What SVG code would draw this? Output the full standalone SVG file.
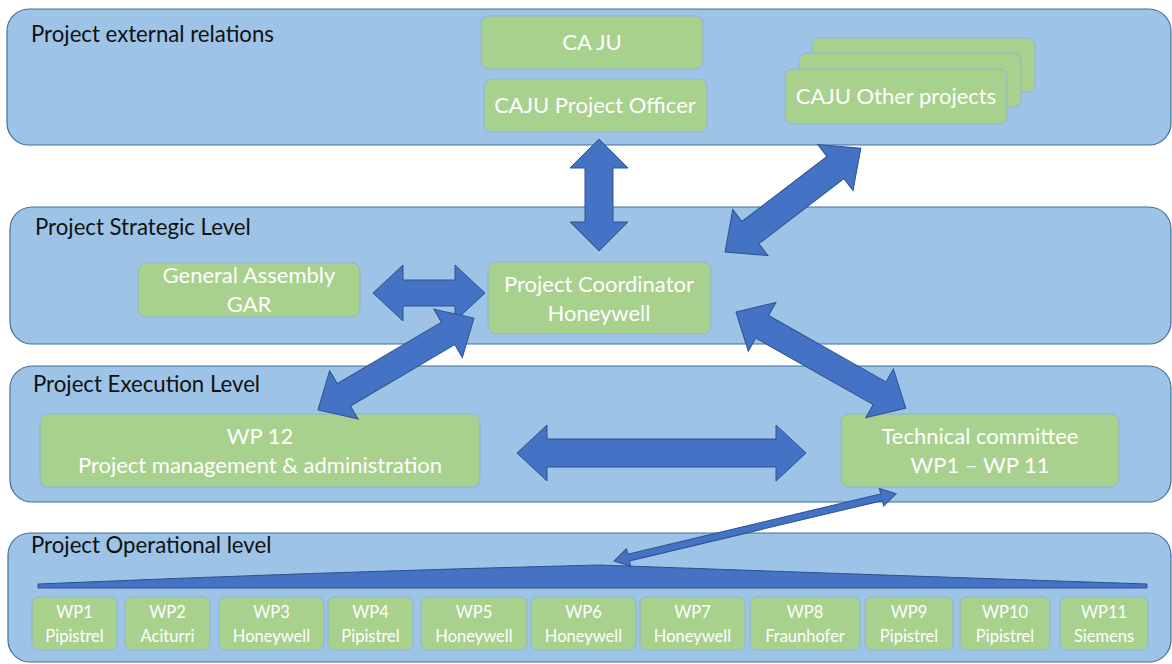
<svg xmlns="http://www.w3.org/2000/svg" width="1172" height="664" viewBox="0 0 1172 664">
<defs>
<style>
.band{fill:#9DC3E6;stroke:#41719C;stroke-width:1.2}
.box{fill:#A9D18E;stroke:#8FB3D6;stroke-width:1}
.arr{fill:#4472C4;stroke:#2F528F;stroke-width:1}
.hdr{font-family:Lato,"Liberation Sans",sans-serif;font-size:22.2px;fill:#111}
.t{font-family:Lato,"Liberation Sans",sans-serif;font-size:22px;fill:#fff;text-anchor:middle}
.s{font-family:Lato,"Liberation Sans",sans-serif;font-size:16.5px;fill:#fff;text-anchor:middle}
</style>
</defs>
<rect width="1172" height="664" fill="#fff"/>

<g id="band-external">
<rect class="band" x="7" y="9" width="1164" height="136" rx="22"/>
<text class="hdr" x="31" y="42">Project external relations</text>
</g>
<g id="band-strategic">
<rect class="band" x="10" y="207" width="1161" height="137" rx="22"/>
<text class="hdr" x="35" y="235">Project Strategic Level</text>
</g>
<g id="band-execution">
<rect class="band" x="10" y="366" width="1161" height="136" rx="22"/>
<text class="hdr" x="33" y="392">Project Execution Level</text>
</g>
<g id="band-operational">
<rect class="band" x="8" y="533" width="1163" height="129" rx="22"/>
<text class="hdr" x="31" y="553">Project Operational level</text>
</g>

<g id="caju">
<rect class="box" x="481" y="16" width="222" height="53" rx="8"/>
<text class="t" x="592" y="50">CA JU</text>
</g>
<g id="caju-officer">
<rect class="box" x="484" y="79" width="223" height="53" rx="8"/>
<text class="t" x="595" y="113">CAJU Project Officer</text>
</g>
<g id="caju-other">
<rect class="box" x="812" y="38" width="223" height="54" rx="8"/>
<rect class="box" x="799" y="53" width="222" height="54" rx="8"/>
<rect class="box" x="785" y="69" width="222" height="55" rx="8"/>
<text class="t" x="896" y="104">CAJU Other projects</text>
</g>
<g id="general-assembly">
<rect class="box" x="138" y="263" width="222" height="54" rx="8"/>
<text class="t" x="249" y="283">General Assembly</text>
<text class="t" x="249" y="312">GAR</text>
</g>
<g id="coordinator">
<rect class="box" x="488" y="262" width="223" height="72" rx="8"/>
<text class="t" x="599" y="292">Project Coordinator</text>
<text class="t" x="599" y="321">Honeywell</text>
</g>
<g id="wp12">
<rect class="box" x="40" y="414" width="440" height="73" rx="8"/>
<text class="t" x="260" y="444">WP 12</text>
<text class="t" x="260" y="473">Project management &amp; administration</text>
</g>
<g id="technical-committee">
<rect class="box" x="841" y="414" width="278" height="73" rx="8"/>
<text class="t" x="980" y="444">Technical committee</text>
<text class="t" x="980" y="473">WP1 – WP 11</text>
</g>

<g id="wedge">
<path class="arr" d="M38,584 Q320,572 598,565 Q880,575 1147,584 L1147,588 L38,588 Z"/>
</g>

<g id="wp1"><rect class="box" x="32" y="597" width="85" height="53" rx="7"/><text class="s" x="74.5" y="618">WP1</text><text class="s" x="74.5" y="642">Pipistrel</text></g>
<g id="wp2"><rect class="box" x="125" y="597" width="85" height="53" rx="7"/><text class="s" x="167.5" y="618">WP2</text><text class="s" x="167.5" y="642">Aciturri</text></g>
<g id="wp3"><rect class="box" x="219" y="597" width="105" height="53" rx="7"/><text class="s" x="271.5" y="618">WP3</text><text class="s" x="271.5" y="642">Honeywell</text></g>
<g id="wp4"><rect class="box" x="328" y="597" width="85" height="53" rx="7"/><text class="s" x="370.5" y="618">WP4</text><text class="s" x="370.5" y="642">Pipistrel</text></g>
<g id="wp5"><rect class="box" x="421" y="597" width="106" height="53" rx="7"/><text class="s" x="474" y="618">WP5</text><text class="s" x="474" y="642">Honeywell</text></g>
<g id="wp6"><rect class="box" x="531" y="597" width="105" height="53" rx="7"/><text class="s" x="583.5" y="618">WP6</text><text class="s" x="583.5" y="642">Honeywell</text></g>
<g id="wp7"><rect class="box" x="640" y="597" width="105" height="53" rx="7"/><text class="s" x="692.5" y="618">WP7</text><text class="s" x="692.5" y="642">Honeywell</text></g>
<g id="wp8"><rect class="box" x="750" y="597" width="110" height="53" rx="7"/><text class="s" x="805" y="618">WP8</text><text class="s" x="805" y="642">Fraunhofer</text></g>
<g id="wp9"><rect class="box" x="865" y="597" width="88" height="53" rx="7"/><text class="s" x="909" y="618">WP9</text><text class="s" x="909" y="642">Pipistrel</text></g>
<g id="wp10"><rect class="box" x="960" y="597" width="90" height="53" rx="7"/><text class="s" x="1005" y="618">WP10</text><text class="s" x="1005" y="642">Pipistrel</text></g>
<g id="wp11"><rect class="box" x="1060" y="597" width="88" height="53" rx="7"/><text class="s" x="1104" y="618">WP11</text><text class="s" x="1104" y="642">Siemens</text></g>

<g id="connectors">
<path class="arr" transform="translate(599,139) rotate(90)" d="M0,0 L29,-29 L29,-14 L83,-14 L83,-29 L112,0 L83,29 L83,14 L29,14 L29,29 Z"/>
<path class="arr" transform="translate(725,252) rotate(-37.4)" d="M0,0 L32,-29 L32,-14 L139,-14 L139,-29 L171,0 L139,29 L139,14 L32,14 L32,29 Z"/>
<path class="arr" transform="translate(373,293)" d="M0,0 L30,-28 L30,-13 L82,-13 L82,-28 L112,0 L82,28 L82,13 L30,13 L30,28 Z"/>
<path class="arr" transform="translate(318,410) rotate(-30.5)" d="M0,0 L30,-28 L30,-13 L151,-13 L151,-28 L181,0 L151,28 L151,13 L30,13 L30,28 Z"/>
<path class="arr" transform="translate(736,312) rotate(29.5)" d="M0,0 L30,-28 L30,-13 L165,-13 L165,-28 L195,0 L165,28 L165,13 L30,13 L30,28 Z"/>
<path class="arr" transform="translate(517,453)" d="M0,0 L30,-28 L30,-14 L259,-14 L259,-28 L289,0 L259,28 L259,14 L30,14 L30,28 Z"/>
<path class="arr" transform="translate(614,561) rotate(-13.4)" d="M0,0 L15,-9 L15,-3.5 L275,-3.5 L275,-9 L290,0 L275,9 L275,3.5 L15,3.5 L15,9 Z"/>
</g>
</svg>
